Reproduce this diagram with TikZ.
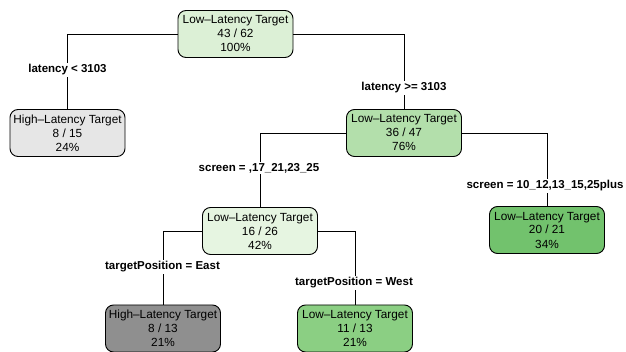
\documentclass[tikz,border=0pt]{standalone}
\usepackage{fontspec}
\setmainfont{Liberation Sans}
\definecolor{cRoot}{HTML}{DCF0D6}
\definecolor{cGreyL}{HTML}{E6E6E6}
\definecolor{cMid}{HTML}{B3DFAB}
\definecolor{cPale}{HTML}{E6F5E1}
\definecolor{cDark}{HTML}{72C26D}
\definecolor{cGreyD}{HTML}{8F8F8F}
\definecolor{cMed}{HTML}{8BCF83}
\tikzset{
  treenode/.style={draw, rounded corners=8pt, minimum width=115pt, minimum height=47pt,
    align=center, inner sep=0pt, line width=0.9pt,
    font=\fontsize{11.8}{14}\selectfont},
  splitlab/.style={fill=white, inner sep=1.5pt, font=\fontsize{11.5}{13}\selectfont\bfseries},
  edge/.style={line width=0.8pt}
}
\begin{document}
\begin{tikzpicture}[x=1pt,y=-1pt]
\useasboundingbox (0,0) rectangle (626,352);
\node[treenode, fill=cRoot]  (root) at (235.5,34)  {Low–Latency Target\\43 / 62\\100\%};
\node[treenode, fill=cGreyL] (n2)   at (67.5,133)  {High–Latency Target\\8 / 15\\24\%};
\node[treenode, fill=cMid]   (n3)   at (404,133)   {Low–Latency Target\\36 / 47\\76\%};
\node[treenode, fill=cPale]  (n6)   at (260,231)   {Low–Latency Target\\16 / 26\\42\%};
\node[treenode, fill=cDark]  (n7)   at (547,230)   {Low–Latency Target\\20 / 21\\34\%};
\node[treenode, fill=cGreyD] (n12)  at (163,328.5) {High–Latency Target\\8 / 13\\21\%};
\node[treenode, fill=cMed]   (n13)  at (355,328.5) {Low–Latency Target\\11 / 13\\21\%};

\draw[edge] (root.west) -| (n2.north);
\draw[edge] (root.east) -| (n3.north);
\draw[edge] (n3.west) -| (n6.north);
\draw[edge] (n3.east) -| (n7.north);
\draw[edge] (n6.west) -| (n12.north);
\draw[edge] (n6.east) -| (n13.north);

\node[splitlab] (l2)  at (67.5,70)  {latency < 3103};
\node[splitlab] (l3)  at (404,88)   {latency >= 3103};
\node[splitlab] (l6)  at (259,168)  {screen = ,17\_21,23\_25};
\node[splitlab] (l7)  at (545,186)  {screen = 10\_12,13\_15,25plus};
\node[splitlab] (l12) at (162.5,267) {targetPosition = East};
\node[splitlab] (l13) at (354,283)  {targetPosition = West};
\end{tikzpicture}
\end{document}
